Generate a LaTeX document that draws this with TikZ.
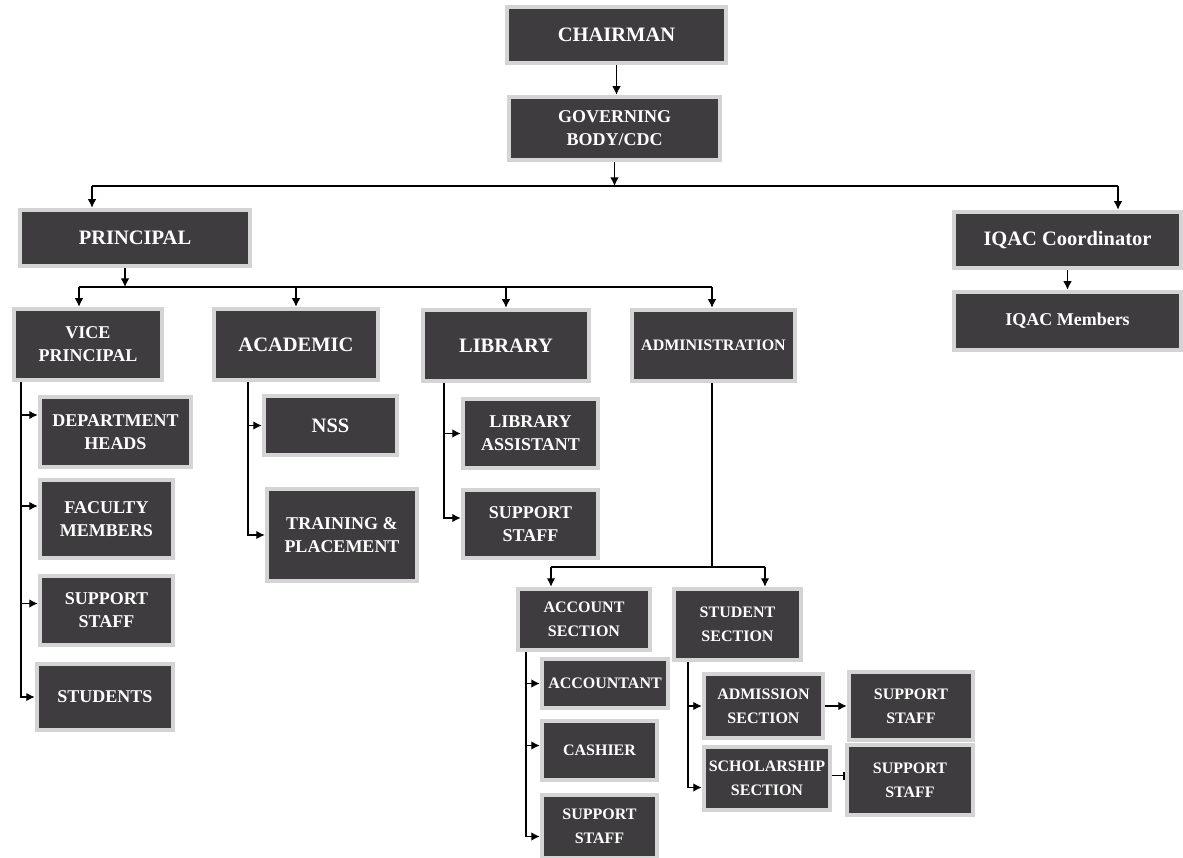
\documentclass[tikz,border=0pt]{standalone}
\usepackage{fontspec}
\setmainfont{Liberation Serif}
\usetikzlibrary{shapes,arrows,arrows.meta,positioning,calc}
\definecolor{boxfill}{RGB}{62,60,62}
\definecolor{boxedge}{RGB}{212,212,212}
\tikzstyle{block} = [rectangle, draw=boxedge, line width=4.5pt, fill=boxfill, text=white, align=center, inner sep=1pt]
\tikzstyle{bigtext} = [font=\bfseries\fontsize{20.5}{24}\selectfont]
\tikzstyle{midtext} = [font=\bfseries\fontsize{18}{23}\selectfont]
\tikzstyle{smalltext} = [font=\bfseries\fontsize{16}{24}\selectfont]
\tikzstyle{link} = [draw, line width=1.3pt]
\tikzstyle{joint} = [coordinate]

\begin{document}
\begin{tikzpicture}[x=1pt, y=-1pt, >={Latex[length=8.5pt,width=8.5pt]}]
    \useasboundingbox (0,0) rectangle (1183,858);
    \node[block, bigtext, minimum width=219pt, minimum height=56pt] (chairman) at (616.5,35) {CHAIRMAN};
    \node[block, midtext, minimum width=211pt, minimum height=63pt] (govbody) at (614.5,128.5) {GOVERNING\\BODY/CDC};
    \node[block, bigtext, minimum width=230pt, minimum height=56pt] (principal) at (135,238) {PRINCIPAL};
    \node[block, bigtext, minimum width=227pt, minimum height=56pt] (iqac) at (1067.5,240) {IQAC Coordinator};
    \node[block, midtext, minimum width=227pt, minimum height=58pt] (iqacmem) at (1067.5,321) {IQAC Members};

    % second level
    \node[block, midtext, minimum width=148pt, minimum height=71pt] (vicep) at (88,344.5) {VICE\\PRINCIPAL};
    \node[block, bigtext, minimum width=164pt, minimum height=71pt] (academic) at (296,344.5) {ACADEMIC};
    \node[block, bigtext, minimum width=166pt, minimum height=71pt] (library) at (506,345.5) {LIBRARY};
    \node[block, font=\bfseries\fontsize{16}{20}\selectfont, minimum width=163pt, minimum height=71pt] (admin) at (713.5,345.5) {ADMINISTRATION};

    % vice principal
    \node[block, midtext, minimum width=151pt, minimum height=70pt] (depthead) at (115.5,432) {DEPARTMENT\\HEADS};
    \node[block, midtext, minimum width=133pt, minimum height=78pt] (faculty) at (106.5,519) {FACULTY\\MEMBERS};
    \node[block, midtext, minimum width=133pt, minimum height=69pt] (vpstaff) at (106.5,610.5) {SUPPORT\\STAFF};
    \node[block, midtext, minimum width=136pt, minimum height=66pt] (students) at (105,697) {STUDENTS};

    % academic and library
    \node[block, bigtext, minimum width=133pt, minimum height=59pt] (nss) at (330.5,425.5) {NSS};
    \node[block, midtext, minimum width=150pt, minimum height=92pt] (training) at (342,535) {TRAINING \&\\PLACEMENT};
    \node[block, midtext, minimum width=135pt, minimum height=69pt] (libasst) at (530.5,433.5) {LIBRARY\\ASSISTANT};
    \node[block, midtext, minimum width=135pt, minimum height=68pt] (libstaff) at (530.5,524) {SUPPORT\\STAFF};

    % administration
    \node[block, smalltext, minimum width=132pt, minimum height=61pt] (account) at (584,619.5) {ACCOUNT\\SECTION};
    \node[block, smalltext, minimum width=127pt, minimum height=71pt] (studsec) at (737.5,624.5) {STUDENT\\SECTION};
    \node[block, smalltext, minimum width=126pt, minimum height=49pt] (accountant) at (605,683.5) {ACCOUNTANT};
    \node[block, smalltext, minimum width=115pt, minimum height=59pt] (cashier) at (599.5,750.5) {CASHIER};
    \node[block, smalltext, minimum width=115pt, minimum height=63pt] (accstaff) at (599.5,826.5) {SUPPORT\\STAFF};
    \node[block, smalltext, minimum width=119pt, minimum height=64pt] (admission) at (763.5,706) {ADMISSION\\SECTION};
    \node[block, smalltext, minimum width=126pt, minimum height=63pt] (scholar) at (767,778.5) {SCHOLARSHIP\\SECTION};
    \node[block, smalltext, minimum width=124pt, minimum height=68pt] (admstaff) at (911,706) {SUPPORT\\STAFF};
    \node[block, smalltext, minimum width=126pt, minimum height=70pt] (schstaff) at (910,780) {SUPPORT\\STAFF};

    % top
    \node[joint] (tl) at (92,186) {};
    \node[joint] (tr) at (1118,186) {};
    \draw[->, link] (chairman.south) -- (chairman.south |- govbody.north);
    \draw[->, link] (govbody.south) -- (govbody.south |- tl);
    \draw[link] (tl) -- (tr);
    \draw[->, link] (tl) -- (tl |- principal.north);
    \draw[->, link] (tr) -- (tr |- iqac.north);
    \draw[->, link] (iqac.south) -- (iqacmem.north);

    % principal
    \node[joint] (pj) at (125,287) {};
    \node[joint] (pl) at (79,287) {};
    \node[joint] (pr) at (712,287) {};
    \draw[->, link] (pj |- principal.south) -- (pj);
    \draw[link] (pl) -- (pr);
    \draw[->, link] (pl) -- (pl |- vicep.north);
    \draw[->, link] (academic.north |- pl) -- (academic.north);
    \draw[->, link] (library.north |- pl) -- (library.north);
    \draw[->, link] (pr) -- (pr |- admin.north);

    % branches
    \node[joint] (vpl) at (21,382) {};
    \draw[->, link] (vpl) |- ([yshift=17pt]depthead.west);
    \draw[->, link] (vpl) |- ([yshift=13pt]faculty.west);
    \draw[->, link] (vpl) |- ([yshift=7pt]vpstaff.west);
    \draw[->, link] (vpl) |- (students.west);

    \node[joint] (acl) at (248,382) {};
    \draw[->, link] (acl) |- (nss.west);
    \draw[->, link] (acl) |- (training.west);

    \node[joint] (lbl) at (444,383) {};
    \draw[->, link] (lbl) |- (libasst.west);
    \draw[->, link] (lbl) |- ([yshift=6pt]libstaff.west);

    % administration
    \node[joint] (aj) at (712,567) {};
    \node[joint] (al) at (551,567) {};
    \node[joint] (ar) at (765,567) {};
    \draw[link] (aj |- admin.south) -- (aj);
    \draw[link] (al) -- (ar);
    \draw[->, link] (al) -- (al |- account.north);
    \draw[->, link] (ar) -- (ar |- studsec.north);

    \node[joint] (asl) at (526,652) {};
    \draw[->, link] (asl) |- (accountant.west);
    \draw[->, link] (asl) |- ([yshift=5pt]cashier.west);
    \draw[->, link] (asl) |- ([yshift=-10pt]accstaff.west);

    \node[joint] (ssl) at (688,662) {};
    \draw[->, link] (ssl) |- (admission.west);
    \draw[->, link] (ssl) |- ([yshift=-9pt]scholar.west);
    \draw[->, link] (admission.east) -- (admission.east -| admstaff.west);
    \draw[-{Bar[width=8pt]}, link] ([yshift=3pt]scholar.east) -- ([yshift=3pt]scholar.east -| schstaff.west);
\end{tikzpicture}
\end{document}
